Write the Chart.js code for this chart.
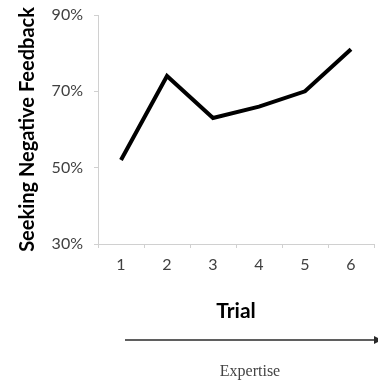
<!DOCTYPE html>
<html>
<head>
<meta charset="utf-8">
<script src="https://cdn.jsdelivr.net/npm/chart.js@4"></script>
<style>
  html, body { margin: 0; padding: 0; background: #fff; }
  #wrap { width: 378px; height: 381px; }
</style>
</head>
<body>
<div id="wrap"><canvas id="myChart" width="378" height="381"></canvas></div>
<script>
const trials = ['1', '2', '3', '4', '5', '6'];
const seekingNegative = [52, 74, 63, 66, 70, 81];
const yTicks = { min: 30, max: 90, step: 20 };
const xTitle = 'Trial';
const yTitle = 'Seeking Negative Feedback';
const arrowLabel = 'Expertise';

const axisGray = '#d0d0d0';

// arrow under the chart with its label
const expertisePlugin = {
    id: 'expertise',
    afterDraw(chart) {
        const ctx = chart.ctx;
        const y = 340;
        ctx.save();
        ctx.strokeStyle = '#2a2a2a';
        ctx.lineWidth = 1.5;
        ctx.beginPath();
        ctx.moveTo(125, y);
        ctx.lineTo(376, y);
        ctx.stroke();
        ctx.fillStyle = '#2a2a2a';
        ctx.beginPath();
        ctx.moveTo(382, y);
        ctx.lineTo(374, y - 4);
        ctx.lineTo(374, y + 4);
        ctx.closePath();
        ctx.fill();
        ctx.font = '16px "Liberation Serif", "DejaVu Serif", serif';
        ctx.fillStyle = '#444';
        ctx.textAlign = 'center';
        ctx.textBaseline = 'middle';
        ctx.fillText(arrowLabel, 250, 372);
        ctx.restore();
    }
};

new Chart(document.getElementById('myChart'), {
    type: 'line',
    plugins: [expertisePlugin],
    data: {
        labels: trials,
        datasets: [{
            data: seekingNegative,
            borderColor: '#000',
            borderWidth: 4,
            borderJoinStyle: 'miter',
            pointRadius: 0,
            tension: 0,
            fill: false
        }]
    },
    options: {
        responsive: false,
        animation: false,
        layout: {
            padding: { left: 0, right: 4, top: 15, bottom: 0 }
        },
        plugins: {
            legend: { display: false },
            tooltip: { enabled: false }
        },
        scales: {
            x: {
                offset: true,
                grid: {
                    offset: true,
                    drawOnChartArea: false,
                    drawTicks: true,
                    tickLength: 4,
                    color: axisGray
                },
                border: { display: true, color: axisGray, width: 1 },
                ticks: {
                    padding: 7,
                    color: '#404040',
                    font: { family: 'Lato', size: 16 }
                },
                title: {
                    display: true,
                    text: xTitle,
                    color: '#000',
                    font: { family: 'Lato', size: 21, weight: 'bold' },
                    padding: { top: 0, bottom: 57 }
                },
                afterFit: s => { s.height = 137; }
            },
            y: {
                min: yTicks.min,
                max: yTicks.max,
                grid: {
                    drawOnChartArea: false,
                    drawTicks: true,
                    tickLength: 4,
                    color: axisGray
                },
                border: { display: true, color: axisGray, width: 1 },
                ticks: {
                    stepSize: yTicks.step,
                    padding: 11,
                    color: '#404040',
                    font: { family: 'Lato', size: 16 },
                    callback: v => v + '%'
                },
                title: {
                    display: true,
                    text: yTitle,
                    color: '#000',
                    font: { family: 'Lato', size: 20, weight: 'bold' },
                    padding: { top: 16, bottom: 0 }
                },
                afterFit: s => {
                    s.width = 98;
                    s.paddingTop = 0;
                    s.paddingBottom = 0;
                }
            }
        }
    }
});
</script>
</body>
</html>
